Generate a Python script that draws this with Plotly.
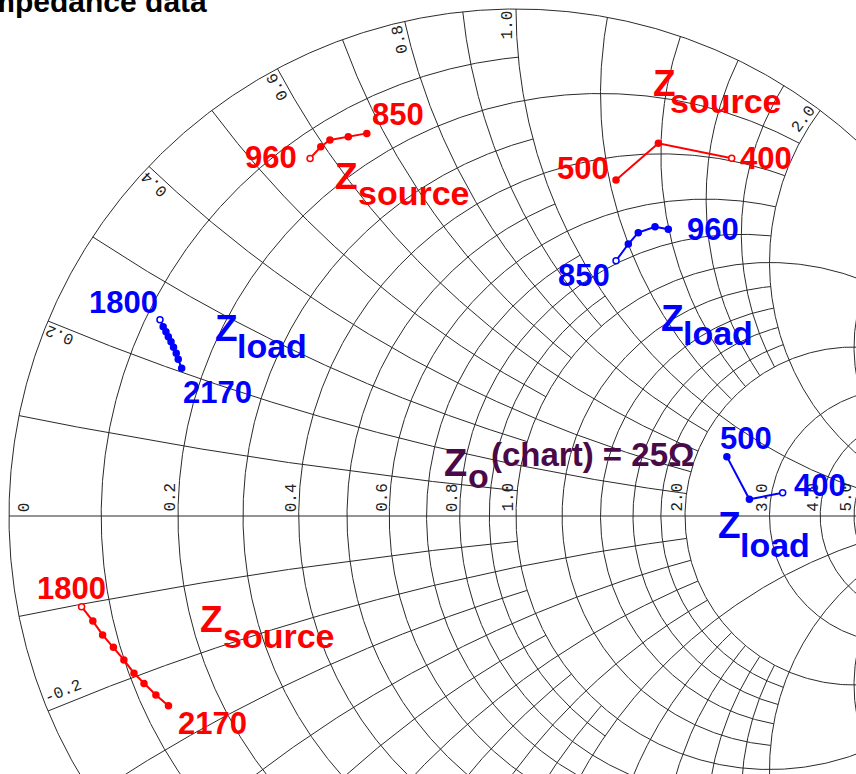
import math
import numpy as np
import plotly.graph_objects as go

W, H = 856, 774
CX, CY, RPX = 516.0, 516.0, 507.0   # chart centre / radius in pixels
Z0 = 25.0                            # chart reference impedance (ohms)

# ---------------- data (series impedances, ohms) ----------------
zs_a_f = ["850", "960"]
zs_a_R = [3.83, 3.55, 3.26, 3.28, 3.41]
zs_a_X = [16.81, 16.05, 15.33, 14.87, 14.25]

zs_b_f = ["400", "500"]
zs_b_R = [9.70, 9.00, 12.04]
zs_b_X = [42.61, 34.75, 30.58]

zl_c_f = ["850", "960"]
zl_c_R = [19.70, 18.55, 17.72, 17.58, 18.23]
zl_c_X = [28.04, 30.01, 31.46, 33.47, 34.94]

zl_d_f = ["400", "500"]
zl_d_R = [79.5, 67.3, 57.3]
zl_d_X = [10.14, 5.63, 16.5]

zl_e_f = ["1800", "2170"]
zl_e_R = [2.93, 3.12, 3.27, 3.41, 3.56, 3.71, 3.87, 4.01, 4.23]
zl_e_X = [6.35, 6.19, 6.08, 5.96, 5.84, 5.70, 5.55, 5.38, 5.13]

zs_f_f = ["1800", "2170"]
zs_f_R = [1.68, 1.91, 2.09, 2.30, 2.49, 2.65, 2.83, 3.04, 3.27]
zs_f_X = [-2.57, -3.04, -3.50, -3.94, -4.40, -4.89, -5.30, -5.79, -6.28]

# ---------------- chart grid definition ----------------
INF = float("inf")
r_values = [0.1, 0.2, 0.3, 0.4, 0.5, 0.6, 0.7, 0.8, 0.9, 1.0, 1.2, 1.4, 1.6, 1.8, 2.0, 3.0, 4.0, 5.0, 10.0, 20.0, 50.0]
r_limits = [1, 2, 1, 2, 1, 2, 1, 2, 1, INF, 2, 2, 2, 2, INF, 5, 5, INF, INF, INF, INF]
x_values = r_values
x_limits = r_limits

real_ticks = [0, 0.2, 0.4, 0.6, 0.8, 1.0, 2.0, 3.0, 4.0, 5.0, 10, 20]
real_tick_text = ["0", "0.2", "0.4", "0.6", "0.8", "1.0", "2.0", "3.0", "4.0", "5.0", "10", "20"]
imag_ticks = [0.2, 0.4, 0.6, 0.8, 1.0, 2.0, 5.0, -0.2, -0.4, -0.6]
imag_tick_text = ["0.2", "0.4", "0.6", "0.8", "1.0", "2.0", "5.0", "-0.2", "-0.4", "-0.6"]


def gamma(z):
    return (z - 1) / (z + 1)


gx, gy = [], []


def add_curve(g):
    gx.extend(g.real.tolist() + [None])
    gy.extend(g.imag.tolist() + [None])


t = np.linspace(0, 2 * np.pi, 1441)
add_curve(np.exp(1j * t))
gx.extend([-1, 1, None]); gy.extend([0, 0, None])

for r, lim in zip(r_values, r_limits):
    a = math.atan(lim)
    phi = np.linspace(-a, a, 900)
    add_curve(gamma(r + 1j * np.tan(phi)))
for x, lim in zip(x_values, x_limits):
    a = math.atan(lim)
    phi = np.linspace(0, a, 900)
    for s in (1, -1):
        add_curve(gamma(np.tan(phi) + 1j * s * x))

fig = go.Figure()
fig.add_trace(go.Scatter(x=gx, y=gy, mode="lines", line=dict(color="#2a2a2a", width=1),
                         hoverinfo="skip", showlegend=False))

RED, BLUE = "#ff0000", "#0000ff"


def add_series(R, X, color, hollow_idx):
    g = gamma((np.array(R) + 1j * np.array(X)) / Z0)
    fills = [color] * len(R)
    fills[hollow_idx] = "white"
    fig.add_trace(go.Scatter(x=g.real, y=g.imag, mode="lines+markers",
                             line=dict(color=color, width=2),
                             marker=dict(size=6, color=fills, line=dict(color=color, width=1.5)),
                             showlegend=False))


add_series(zs_a_R, zs_a_X, RED, -1)
add_series(zs_b_R, zs_b_X, RED, 0)
add_series(zl_c_R, zl_c_X, BLUE, 0)
add_series(zl_d_R, zl_d_X, BLUE, 0)
add_series(zl_e_R, zl_e_X, BLUE, 0)
add_series(zs_f_R, zs_f_X, RED, 0)

ann = []
MONO = "Liberation Mono, Courier New, monospace"
SANS = "Liberation Sans, Arial, sans-serif"
CH = 9.6  # mono advance at 16px

# real-axis labels
for v, txt in zip(real_ticks, real_tick_text):
    gv = (v - 1) / (v + 1)
    half = len(txt) * CH / 2
    ann.append(dict(x=gv, y=0, xref="x", yref="y", text=txt, textangle=-90, showarrow=False,
                    xshift=(16 if v == 0 else -7), yshift=4 + half,
                    font=dict(family=MONO, size=16, color="#222")))

# reactance labels around the rim
for v, txt in zip(imag_ticks, imag_tick_text):
    g = gamma(1j * v)
    a, b = g.real, g.imag
    ang_in = math.degrees(math.atan2(b, -a))
    uin = (-a, b)
    if v > 0:
        ang = ang_in + 180
        up = (-b, -a)
        dp = 8
    else:
        ang = ang_in
        up = (b, a)
        dp = 12
    if ang > 180:
        ang -= 360
    din = len(txt) * CH / 2 + 2
    dx = din * uin[0] + dp * up[0]
    dy = din * uin[1] + dp * up[1]
    ann.append(dict(x=a, y=b, xref="x", yref="y", text=txt, textangle=ang, showarrow=False,
                    xshift=dx, yshift=-dy, font=dict(family=MONO, size=16, color="#222")))


def P(px, py):
    return px / W, 1 - py / H


def label(px, py, text, color, size, anchor="center"):
    x, y = P(px, py)
    ann.append(dict(x=x, y=y, xref="paper", yref="paper", text="<b>" + text + "</b>",
                    showarrow=False, xanchor=anchor, yanchor="middle",
                    font=dict(family=SANS, size=size, color=color)))


# frequency labels
label(398, 114, zs_a_f[0], RED, 31)
label(271, 157, zs_a_f[1], RED, 31)
label(766, 158, zs_b_f[0], RED, 31)
label(583, 169, zs_b_f[1], RED, 31)
label(584, 275, zl_c_f[0], BLUE, 31)
label(713, 230, zl_c_f[1], BLUE, 31)
label(820, 485, zl_d_f[0], BLUE, 31)
label(746, 438, zl_d_f[1], BLUE, 31)
label(123, 302, zl_e_f[0], BLUE, 31)
label(217, 392, zl_e_f[1], BLUE, 31)
label(71, 588, zs_f_f[0], RED, 31)
label(212, 723, zs_f_f[1], RED, 31)

# Z source / Z load tags
for zx, zy, sx, sy, word, col in [
    (346, 177, 414, 193, "source", RED),
    (664, 84, 726, 101, "source", RED),
    (211, 619, 279, 636, "source", RED),
    (226, 329, 272, 346, "load", BLUE),
    (729, 525, 775, 545, "load", BLUE),
    (672, 318, 718, 333, "load", BLUE),
]:
    label(zx, zy, "Z", col, 37)
    label(sx, sy, word, col, 34)

PURPLE = "#4a0a48"
label(455, 463, "Z", PURPLE, 38)
label(478, 476, "o", PURPLE, 34)
label(592, 454, "(chart) = 25Ω", PURPLE, 33)

# title (cut off at the left edge)
x0, y0 = P(209, 2)
ann.append(dict(x=x0, y=y0, xref="paper", yref="paper", text="<b>Impedance data</b>",
                showarrow=False, xanchor="right", yanchor="middle",
                font=dict(family=SANS, size=30, color="black")))

fig.update_layout(
    width=W, height=H, autosize=False,
    margin=dict(l=0, r=0, t=0, b=0),
    paper_bgcolor="white", plot_bgcolor="white",
    xaxis=dict(range=[-CX / RPX, (W - CX) / RPX], visible=False, fixedrange=True),
    yaxis=dict(range=[-(H - CY) / RPX, CY / RPX], visible=False, fixedrange=True),
    annotations=ann,
    showlegend=False,
)
fig.write_html("out.html", config={"displayModeBar": False},
               post_script="document.body.style.margin='0px';")
